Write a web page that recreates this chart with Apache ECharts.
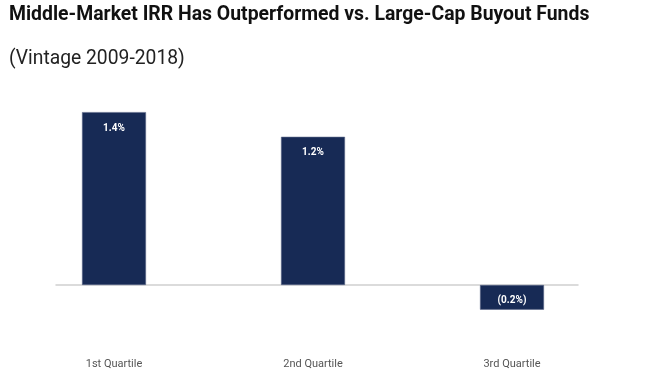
<!DOCTYPE html>
<html>
<head>
<meta charset="utf-8">
<script src="https://cdn.jsdelivr.net/npm/echarts@6/dist/echarts.min.js"></script>
<style>
html,body{margin:0;padding:0;background:#fff;}
#chart{width:663px;height:381px;}
</style>
</head>
<body>
<div id="chart"></div>
<script>
const categories = ['1st Quartile', '2nd Quartile', '3rd Quartile'];
const irrDiff = [1.4, 1.2, -0.2];
const titleText = 'Middle-Market IRR Has Outperformed vs. Large-Cap Buyout Funds';
const subtitleText = '(Vintage 2009-2018)';

const chart = echarts.init(document.getElementById('chart'));
const fmt = v => v < 0 ? '(' + Math.abs(v).toFixed(1) + '%)' : v.toFixed(1) + '%';
const barColor = '#172a55';

chart.setOption({
  animation: false,
  backgroundColor: '#fff',
  title: [
    {text: titleText, left: 9, top: 6, padding: 0, textStyle: {fontFamily: 'Roboto', fontWeight: 'bold', fontSize: 19.4, color: '#111'}},
    {text: subtitleText, left: 9, top: 50, padding: 0, textStyle: {fontFamily: 'Roboto', fontWeight: 'normal', fontSize: 19.3, color: '#222'}}
  ],
  grid: [
    {left: 14.5, right: 51.5, top: 87.4, bottom: 46.6},
    {left: 56, right: 85, top: 87.4, bottom: 46.6}
  ],
  xAxis: [
    {
      type: 'category', data: categories, gridIndex: 0,
      axisLine: {show: false}, axisTick: {show: false},
      axisLabel: {margin: 24, fontFamily: 'Roboto', fontSize: 11, color: '#555'}
    },
    {
      type: 'category', data: categories, gridIndex: 1,
      axisLine: {show: true, onZero: true, lineStyle: {color: '#d0d0d0', width: 1.5}},
      axisTick: {show: false}, axisLabel: {show: false}
    }
  ],
  yAxis: [
    {type: 'value', min: -0.4, max: 1.6, gridIndex: 0, show: false},
    {type: 'value', min: -0.4, max: 1.6, gridIndex: 1, show: false}
  ],
  series: [
    {
      type: 'bar', xAxisIndex: 0, yAxisIndex: 0, barWidth: 64,
      itemStyle: {color: barColor, borderColor: '#5a6788', borderWidth: 0.6},
      data: irrDiff.map(v => ({
        value: v,
        label: v < 0 ? {position: 'inside', offset: [0, 3]} : {position: 'insideTop', distance: 11}
      })),
      label: {
        show: true, color: '#fff', fontFamily: 'Roboto', fontWeight: 'bold', fontSize: 10,
        formatter: p => fmt(p.value)
      }
    }
  ]
});
</script>
</body>
</html>
